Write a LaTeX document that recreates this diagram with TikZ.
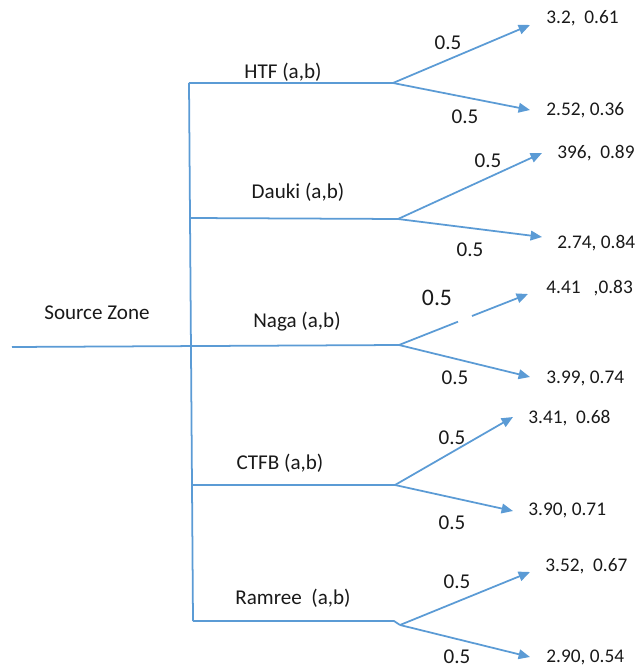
\documentclass[tikz,border=0pt]{standalone}
\usepackage{fontspec}
\setmainfont{Carlito}
\usetikzlibrary{positioning, arrows.meta}
\definecolor{linkblue}{HTML}{5B9BD5}

\begin{document}
\begin{tikzpicture}[
        x=0.02cm, y=-0.02cm,
        link/.style={color=linkblue, line width=1pt},
        arrow/.style={link, -{Triangle[length=6.5pt, width=5.5pt]}},
        zone_label/.style={inner sep=0pt, text=black!90, font=\fontsize{12}{14}\selectfont},
        prob_label/.style={inner sep=0pt, text=black!90, font=\fontsize{12}{14}\selectfont},
        value_label/.style={inner sep=0pt, anchor=west, text=black!90, font=\fontsize{11}{13}\selectfont}
    ]
    \useasboundingbox (0,0) rectangle (639,671);

    % Trunk and branch points
    \coordinate (src_start) at (12,347);
    \coordinate (trunk_top) at (189,83);
    \coordinate (trunk_bot) at (193,621);
    \coordinate (htf_fork) at (393,83);
    \coordinate (dauki_join) at (190,218);
    \coordinate (dauki_fork) at (398,219);
    \coordinate (naga_fork) at (399,345);
    \coordinate (ctfb_join) at (192,485);
    \coordinate (ctfb_fork) at (395,485);
    \coordinate (ramree_end) at (394,621);
    \coordinate (ramree_fork) at (400,625);

    % Arrow ends
    \coordinate (htf_hi) at (530,25);
    \coordinate (htf_lo) at (530,110);
    \coordinate (dauki_hi) at (542,153);
    \coordinate (dauki_lo) at (542,237);
    \coordinate (naga_gap_a) at (458,321.7);
    \coordinate (naga_gap_b) at (472,316);
    \coordinate (naga_hi) at (528,294);
    \coordinate (naga_lo) at (530,377);
    \coordinate (ctfb_hi) at (513,417);
    \coordinate (ctfb_lo) at (513,511);
    \coordinate (ramree_hi) at (530,572);
    \coordinate (ramree_lo) at (530,657);

    % Lines
    \draw[link] (trunk_top) -- (trunk_bot);
    \draw[link] (src_start) -- (naga_fork);
    \draw[link] (trunk_top) -- (htf_fork);
    \draw[link] (dauki_join) -- (dauki_fork);
    \draw[link] (ctfb_join) -- (ctfb_fork);
    \draw[link] (trunk_bot) -- (ramree_end) -- (ramree_fork);

    % Arrows
    \draw[arrow] (htf_fork) -- (htf_hi);
    \draw[arrow] (htf_fork) -- (htf_lo);
    \draw[arrow] (dauki_fork) -- (dauki_hi);
    \draw[arrow] (dauki_fork) -- (dauki_lo);
    \draw[link] (naga_fork) -- (naga_gap_a);
    \draw[arrow] (naga_gap_b) -- (naga_hi);
    \draw[arrow] (naga_fork) -- (naga_lo);
    \draw[arrow] (ctfb_fork) -- (ctfb_hi);
    \draw[arrow] (ctfb_fork) -- (ctfb_lo);
    \draw[arrow] (ramree_fork) -- (ramree_hi);
    \draw[arrow] (ramree_fork) -- (ramree_lo);

    % Zone labels
    \node[zone_label] (source_zone) at (97,313) {Source Zone};
    \node[zone_label] (htf_name) at (283,72) {HTF (a,b)};
    \node[zone_label] (dauki_name) at (298,192) {Dauki (a,b)};
    \node[zone_label] (naga_name) at (297,322) {Naga (a,b)};
    \node[zone_label] (ctfb_name) at (280,463) {CTFB (a,b)};
    \node[zone_label] (ramree_name) at (293,598) {Ramree~~(a,b)};

    % Probabilities
    \node[prob_label] (htf_p_hi) at (448,43) {0.5};
    \node[prob_label] (htf_p_lo) at (465,117) {0.5};
    \node[prob_label] (dauki_p_hi) at (488,161) {0.5};
    \node[prob_label] (dauki_p_lo) at (470,250) {0.5};
    \node[prob_label, font=\fontsize{13.5}{15}\selectfont] (naga_p_hi) at (437,298) {0.5};
    \node[prob_label] (naga_p_lo) at (455,378) {0.5};
    \node[prob_label] (ctfb_p_hi) at (452,438) {0.5};
    \node[prob_label] (ctfb_p_lo) at (452,523) {0.5};
    \node[prob_label] (ramree_p_hi) at (457,582) {0.5};
    \node[prob_label] (ramree_p_lo) at (457,657) {0.5};

    % Outcome values
    \node[value_label] (htf_v_hi) at (546,18) {3.2,~~0.61};
    \node[value_label] (htf_v_lo) at (546,110) {2.52, 0.36};
    \node[value_label] (dauki_v_hi) at (557,153) {396,~~0.89};
    \node[value_label] (dauki_v_lo) at (557,243) {2.74, 0.84};
    \node[value_label] (naga_v_hi) at (546,288) {4.41~~~,0.83};
    \node[value_label] (naga_v_lo) at (546,378) {3.99, 0.74};
    \node[value_label] (ctfb_v_hi) at (528,418) {3.41,~~0.68};
    \node[value_label] (ctfb_v_lo) at (528,510) {3.90, 0.71};
    \node[value_label] (ramree_v_hi) at (545,566) {3.52,~~0.67};
    \node[value_label] (ramree_v_lo) at (546,657) {2.90, 0.54};
\end{tikzpicture}
\end{document}
